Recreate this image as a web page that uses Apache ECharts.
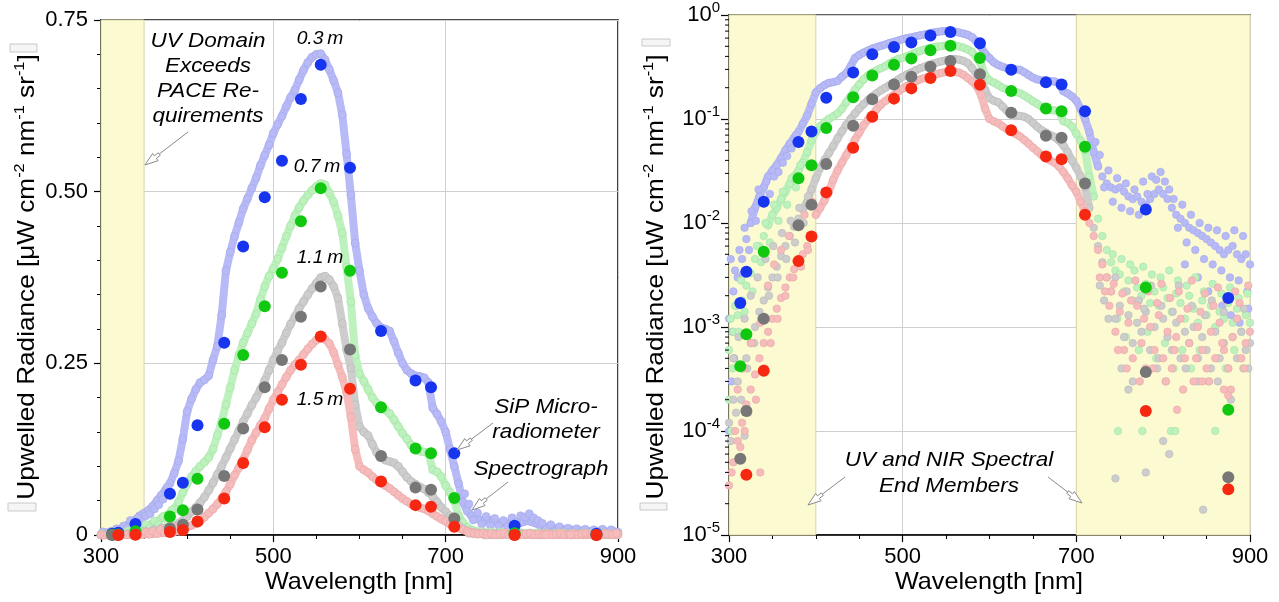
<!DOCTYPE html>
<html>
<head>
<meta charset="utf-8">
<script src="https://cdn.jsdelivr.net/npm/echarts@6/dist/echarts.min.js"></script>
<style>
  html, body { margin: 0; padding: 0; background: #fff; }
  #chart { width: 1279px; height: 602px; }
</style>
</head>
<body>
<div id="chart"></div>
<script>
// Spectrograph sampling grid (nm)
const wavelengths = [
  300,305,310,315,320,325,330,335,340,345,350,355,360,365,370,375,380,385,390,395,
  400,405,410,415,420,425,430,435,440,445,450,455,460,465,470,475,480,485,490,495,
  500,505,510,515,520,525,530,535,540,545,550,555,560,565,570,575,580,585,590,595,
  600,605,610,615,620,625,630,635,640,645,650,655,660,665,670,675,680,685,690,695,
  700,705,710,715,720,725,730,735,740,745,750,755,760,765,770,775,780,785,790,795,
  800,805,810,815,820,825,830,835,840,845,850,855,860,865,870,875,880,885,890,895,
  900
];

// Spectrograph upwelled radiance, 0.3 m
const spec03 = [
  0.0012,0.0022,0.0030,0.0045,0.0070,0.0100,0.0140,0.0180,0.0220,0.0280,0.0320,0.0360,0.0420,0.0500,0.0580,0.0660,0.0750,0.0900,0.108,0.140,
  0.180,0.198,0.212,0.222,0.226,0.232,0.255,0.275,0.320,0.385,0.412,0.435,0.455,0.475,0.490,0.505,0.520,0.538,0.553,0.568,
  0.585,0.598,0.610,0.624,0.637,0.648,0.663,0.677,0.688,0.696,0.700,0.701,0.692,0.678,0.662,0.644,0.612,0.555,0.495,0.425,
  0.385,0.350,0.330,0.318,0.308,0.302,0.300,0.297,0.282,0.265,0.250,0.240,0.235,0.232,0.231,0.229,0.222,0.185,0.176,0.165,
  0.150,0.125,0.100,0.075,0.048,0.035,0.028,0.024,0.022,0.021,0.022,0.020,0.018,0.017,0.018,0.016,0.015,0.017,0.019,0.021,
  0.019,0.017,0.014,0.012,0.011,0.010,0.009,0.0085,0.008,0.0075,0.007,0.0065,0.006,0.0055,0.005,0.0055,0.006,0.005,0.0045,0.005,
  0.004
];
// Spectrograph upwelled radiance, 0.7 m
const spec07 = [
  0.0006,0.0009,0.0013,0.0018,0.0025,0.0033,0.0045,0.0060,0.0075,0.0095,0.0120,0.0140,0.0170,0.0200,0.0240,0.0280,0.0320,0.0380,0.0480,0.0620,
  0.0750,0.0850,0.0930,0.100,0.106,0.113,0.125,0.145,0.165,0.190,0.215,0.240,0.262,0.280,0.294,0.308,0.322,0.343,0.362,0.377,
  0.388,0.402,0.418,0.435,0.450,0.465,0.477,0.487,0.495,0.502,0.508,0.512,0.510,0.498,0.485,0.465,0.440,0.390,0.340,0.262,
  0.235,0.224,0.212,0.200,0.192,0.187,0.182,0.177,0.168,0.158,0.148,0.140,0.131,0.125,0.122,0.121,0.119,0.095,0.092,0.085,
  0.072,0.062,0.050,0.028,0.018,0.011,0.0075,0.0055,0.0042,0.0035,0.0032,0.0022,0.0028,0.0018,0.0024,0.0020,0.0026,0.0017,0.0022,0.0016,
  0.0024,0.0019,0.0014,0.0021,0.0017,0.0012,0.0020,0.0015,0.0011,0.0018,0.0013,0.0016,0.0010,0.0014,0.0012,0.0017,0.0011,0.0015,0.0009,0.0013,
  0.0011
];
// Spectrograph upwelled radiance, 1.1 m
const spec11 = [
  0.00012,0.0002,0.0003,0.0004,0.0005,0.0007,0.0010,0.0014,0.0018,0.0024,0.0030,0.0038,0.0048,0.0060,0.0075,0.0092,0.0110,0.0135,0.0160,0.0210,
  0.0270,0.034,0.040,0.047,0.055,0.065,0.076,0.088,0.100,0.113,0.126,0.139,0.152,0.165,0.177,0.189,0.200,0.212,0.225,0.240,
  0.255,0.268,0.280,0.294,0.307,0.318,0.330,0.340,0.350,0.359,0.367,0.375,0.377,0.372,0.362,0.345,0.308,0.270,0.243,0.190,
  0.158,0.150,0.145,0.132,0.120,0.113,0.109,0.107,0.105,0.100,0.092,0.084,0.078,0.074,0.070,0.067,0.062,0.056,0.048,0.040,
  0.034,0.028,0.022,0.014,0.009,0.006,0.0042,0.0030,0.0022,0.0012,0.0016,0.0008,0.0013,0.0007,0.0011,0.0009,0.0014,0.0006,0.0010,0.0005,
  0.0012,0.0008,0.0006,0.0011,0.0005,0.0009,0.0007,0.0010,0.0005,0.0008,0.0006,0.0004,0.0009,0.0005,0.0007,0.0004,0.0008,0.0005,0.0009,0.0006,
  0.0007
];
// Spectrograph upwelled radiance, 1.5 m
const spec15 = [
  0.00003,0.00005,0.00008,0.00012,0.00018,0.00025,0.00035,0.0005,0.0007,0.0009,0.0012,0.0015,0.0019,0.0024,0.0030,0.0036,0.0043,0.0050,0.0060,0.0075,
  0.0120,0.0140,0.0165,0.020,0.026,0.032,0.038,0.045,0.053,0.063,0.074,0.087,0.098,0.110,0.124,0.138,0.149,0.160,0.170,0.184,
  0.197,0.208,0.219,0.230,0.240,0.248,0.255,0.263,0.271,0.278,0.284,0.287,0.285,0.279,0.266,0.248,0.230,0.208,0.172,0.125,
  0.100,0.095,0.091,0.085,0.080,0.076,0.072,0.068,0.063,0.058,0.053,0.049,0.045,0.042,0.040,0.038,0.035,0.031,0.027,0.023,
  0.020,0.016,0.013,0.010,0.0075,0.0055,0.0040,0.0030,0.0022,0.0009,0.0014,0.0006,0.0011,0.0005,0.0016,0.0007,0.0004,0.0010,0.0006,0.0013,
  0.0005,0.0009,0.0004,0.0008,0.0012,0.0005,0.0007,0.0003,0.0010,0.0006,0.0004,0.0009,0.0005,0.0011,0.0006,0.0004,0.0008,0.0012,0.0005,0.0007,
  0.0009
];

// Additional spectrograph samples in the noisy UV and NIR ends: [nm, radiance]
const scatter03 = [
  [302,0.0045],[304,0.0009],[307,0.0035],[309,0.0016],[312,0.0055],[316,0.0032],[318,0.009],[323,0.0055],[326,0.013],[331,0.0105],
  [334,0.021],[338,0.016],[343,0.025],[347,0.019],[352,0.028],[357,0.031],[362,0.038],[367,0.044],[372,0.052],[377,0.07],
  [303,0.0003],[300,0.0001],[306,0.0005],
  [722,0.06],[727,0.045],[732,0.022],[737,0.032],[742,0.016],[747,0.027],[752,0.014],[757,0.024],[762,0.013],[767,0.021],
  [772,0.012],[777,0.025],[782,0.019],[787,0.028],[792,0.026],[797,0.031],[802,0.025],[807,0.021],[812,0.017],[817,0.009],
  [822,0.015],[827,0.0065],[832,0.012],[837,0.0055],[842,0.010],[847,0.0045],[852,0.009],[857,0.004],[862,0.0085],[867,0.0035],
  [872,0.0075],[877,0.003],[882,0.0085],[887,0.0028],[892,0.0075],[897,0.0022],[852,0.0022],[868,0.0016],[878,0.0013],[888,0.0011],
  [898,0.0015],[840,0.003],[825,0.004]
];
const scatter07 = [
  [300,0.0002],[302,0.0012],[304,0.0004],[307,0.0016],[311,0.0009],[314,0.0028],[318,0.0014],[322,0.0035],[327,0.0022],[332,0.006],
  [337,0.0042],[342,0.01],[347,0.0065],[352,0.015],[357,0.0105],[362,0.02],[367,0.015],[372,0.027],[377,0.022],[382,0.036],[303,0.0001],
  [742,0.005],[747,0.0012],[752,0.0045],[757,0.0008],[762,0.004],[767,0.0035],[772,0.0006],[777,0.0038],[782,0.0009],[787,0.0032],
  [792,0.0005],[797,0.003],[802,0.0007],[807,0.0035],[812,0.0004],[817,0.0028],[822,0.0006],[827,0.0025],[832,0.0004],[837,0.003],
  [842,0.0006],[847,0.0022],[852,0.0003],[857,0.0026],[862,0.0005],[867,0.0021],[872,0.0004],[877,0.0024],[882,0.0006],[887,0.0019],
  [892,0.0004],[897,0.0021],[748,0.0001],[776,0.0001],[809,0.0001],[814,0.0001],[860,0.0001]
];
const scatter11 = [
  [302,0.00008],[305,0.0005],[308,0.00015],[311,0.0008],[314,0.0002],[318,0.0012],[321,0.0004],[325,0.002],[329,0.0007],[333,0.003],
  [337,0.0012],[342,0.0045],[346,0.002],[351,0.006],[356,0.003],[361,0.008],[366,0.0045],[371,0.0105],[376,0.0065],[381,0.014],
  [386,0.01],[391,0.018],[318,0.00009],
  [727,0.0025],[732,0.0018],[737,0.0012],[745,0.003],[752,0.0004],[758,0.0022],[765,0.0003],[772,0.0018],[778,0.0015],[786,0.0025],
  [793,0.0004],[798,0.0016],[803,0.0003],[811,0.0014],[818,0.0025],[826,0.0004],[833,0.0016],[840,0.0003],[848,0.0013],[856,0.0018],
  [863,0.0003],[870,0.0014],[878,0.0002],[885,0.0012],[893,0.0015],[898,0.0004],[745,0.000035],[780,0.00004],[800,0.00008],[807,0.00006],
  [846,0.0000175],[760,0.00025]
];
const scatter15 = [
  [303,0.00004],[307,0.0001],[310,0.00025],[313,0.00007],[317,0.0004],[322,0.00015],[326,0.0007],[331,0.0002],[336,0.0011],[341,0.0004],
  [345,0.0025],[348,0.0007],[352,0.004],[356,0.0012],[360,0.0055],[365,0.002],[369,0.0075],[374,0.003],[378,0.0095],[383,0.0038],
  [387,0.012],[391,0.0055],[396,0.016],[336,0.00004],[318,0.0001],
  [727,0.003],[733,0.0022],[738,0.0016],[743,0.0026],[748,0.0006],[753,0.0021],[758,0.0004],[763,0.0018],[768,0.0028],[773,0.0003],
  [778,0.0012],[783,0.0022],[788,0.0004],[793,0.0017],[798,0.0026],[803,0.0003],[808,0.0019],[813,0.0006],[818,0.0022],[823,0.00025],
  [828,0.0015],[833,0.0028],[838,0.0005],[843,0.0014],[848,0.0021],[853,0.0003],[858,0.0016],[863,0.0024],[868,0.0007],[873,0.0018],
  [878,0.00025],[883,0.0022],[888,0.0017],[893,0.0004],[898,0.0025],[816,0.00016],[845,0.0003],[870,0.00025],[875,0.00022]
];

// SiP microradiometer channels (nm) and radiances
const channels = [313,320,340,380,395,412,443,465,490,510,532,555,589,625,665,683,710,780,875];
const rad03 = [0.0017,0.0034,0.016,0.060,0.076,0.160,0.280,0.420,0.492,0.545,0.635,0.685,0.535,0.297,0.225,0.215,0.119,0.0135,0.0019];
const rad07 = [0.00042,0.00085,0.0053,0.027,0.036,0.082,0.162,0.262,0.333,0.382,0.457,0.505,0.385,0.186,0.126,0.119,0.054,0.0024,0.00016];
const rad11 = [0.000054,0.000156,0.0012,0.0095,0.015,0.037,0.086,0.155,0.215,0.255,0.318,0.362,0.270,0.115,0.069,0.066,0.024,0.00037,0.000036];
const rad15 = [null,0.000038,0.00038,0.0043,0.0074,0.0197,0.053,0.105,0.157,0.197,0.248,0.289,0.213,0.078,0.0435,0.041,0.012,0.000156,0.0000275];

const depthLabels = ['0.3\u2009m', '0.7\u2009m', '1.1\u2009m', '1.5\u2009m'];
const xTicks = [300, 500, 700, 900];
const linearYTicks = [0, 0.25, 0.5, 0.75];

const FONT = '"Liberation Sans", Arial, Helvetica, sans-serif';

const depths = [
  { spec: spec03, extra: scatter03, rad: rad03, light: '#B7BAF6', edge: '#A3A7EA', dark: '#1734EE', logRange: [325, 727] },
  { spec: spec07, extra: scatter07, rad: rad07, light: '#BDF1BD', edge: '#A5E2A5', dark: '#0FC80F', logRange: [345, 722] },
  { spec: spec11, extra: scatter11, rad: rad11, light: '#CDCDCD', edge: '#B8B8B8', dark: '#777777', logRange: [385, 718] },
  { spec: spec15, extra: scatter15, rad: rad15, light: '#F6BCBC', edge: '#E8A6A6', dark: '#F62812', logRange: [398, 712] }
];

function pairs(xs, ys) {
  return xs.map((x, i) => [x, ys[i]]).filter(p => p[1] != null);
}

const chart = echarts.init(document.getElementById('chart'), null, { renderer: 'canvas' });

const axisText = { fontSize: 22, color: '#000', fontFamily: FONT };

function xAxisFor(gridIndex) {
  return {
    type: 'value', gridIndex, min: 300, max: 900, interval: 200,
    axisLine: { show: true, onZero: false, lineStyle: { color: '#000', width: 1.5 } },
    axisTick: { show: true, length: 7, lineStyle: { color: '#000', width: 1.2 } },
    minorTick: { show: true, splitNumber: 4, length: 4, lineStyle: { color: '#000', width: 1 } },
    axisLabel: Object.assign({ margin: 11, formatter: v => xTicks.includes(v) ? String(v) : '' }, axisText),
    splitLine: { show: true, lineStyle: { color: '#CFCFCF', width: 1 } }
  };
}

const option = {
  animation: false,
  backgroundColor: '#fff',
  grid: [
    { left: 101, top: 20, width: 517, height: 515, show: true, borderColor: '#111', borderWidth: 1.6, backgroundColor: 'transparent' },
    { left: 729, top: 15, width: 521, height: 520, show: true, borderColor: '#333', borderWidth: 1.6, backgroundColor: 'transparent' }
  ],
  xAxis: [xAxisFor(0), xAxisFor(1)],
  yAxis: [
    {
      type: 'value', gridIndex: 0, min: 0, max: 0.75, interval: 0.25,
      axisLine: { show: true, onZero: false, lineStyle: { color: '#000', width: 1.5 } },
      axisTick: { show: true, length: 7, lineStyle: { color: '#000', width: 1.2 } },
      minorTick: { show: true, splitNumber: 5, length: 4, lineStyle: { color: '#000', width: 1 } },
      axisLabel: Object.assign({
        margin: 13,
        formatter: v => linearYTicks.includes(v) ? (v === 0 ? '0' : v.toFixed(2)) : ''
      }, axisText),
      splitLine: { show: true, lineStyle: { color: '#CFCFCF', width: 1 } }
    },
    {
      type: 'log', logBase: 10, gridIndex: 1, min: 1e-5, max: 1,
      axisLine: { show: true, onZero: false, lineStyle: { color: '#000', width: 1.5 } },
      axisTick: { show: true, length: 8, lineStyle: { color: '#000', width: 1.2 } },
      minorTick: { show: false },
      axisLabel: {
        margin: 9,
        formatter: v => '{b|10}{e|' + Math.round(Math.log10(v)) + '}',
        rich: {
          b: { fontSize: 22, fontFamily: FONT, color: '#000', lineHeight: 30, verticalAlign: 'middle' },
          e: { fontSize: 15, fontFamily: FONT, color: '#000', lineHeight: 30, verticalAlign: 'top' }
        }
      },
      splitLine: { show: true, lineStyle: { color: '#CFCFCF', width: 1 } }
    }
  ],
  series: []
};

// Shaded wavelength domains
option.series.push({
  type: 'line', xAxisIndex: 0, yAxisIndex: 0, data: [], z: -1, silent: true,
  markArea: {
    silent: true,
    itemStyle: { color: '#FCFAD0', borderColor: '#D9D6A8', borderWidth: 1 },
    data: [[{ xAxis: 300 }, { xAxis: 350 }]]
  }
});
option.series.push({
  type: 'line', xAxisIndex: 1, yAxisIndex: 1, data: [], z: -1, silent: true,
  markArea: {
    silent: true,
    itemStyle: { color: '#FCFAD0', borderColor: '#D9D6A8', borderWidth: 1 },
    data: [[{ xAxis: 300 }, { xAxis: 400 }], [{ xAxis: 700 }, { xAxis: 900 }]]
  }
});

// Spectrograph traces
depths.forEach((d, i) => {
  const main = pairs(wavelengths, d.spec);
  const dotStyle = { color: d.light, borderColor: d.edge, borderWidth: 0.6, opacity: 1 };
  // linear panel: continuous band of samples
  option.series.push({
    type: 'line', xAxisIndex: 0, yAxisIndex: 0, data: main, silent: true, z: 3 + i * 0.1,
    symbol: 'circle', symbolSize: 8, showSymbol: true,
    lineStyle: { color: d.light, width: 8, cap: 'round', join: 'round' },
    itemStyle: dotStyle
  });
  option.series.push({
    type: 'scatter', xAxisIndex: 0, yAxisIndex: 0, data: d.extra, silent: true, z: 3 + i * 0.1,
    symbolSize: 8, itemStyle: dotStyle
  });
  // log panel: band where the signal is clean, loose samples at the ends
  option.series.push({
    type: 'line', xAxisIndex: 1, yAxisIndex: 1, silent: true, z: 3 + i * 0.1,
    data: main.filter(p => p[0] >= d.logRange[0] && p[0] <= d.logRange[1]),
    showSymbol: false, lineStyle: { color: d.light, width: 8, cap: 'round', join: 'round' }
  });
  option.series.push({
    type: 'scatter', xAxisIndex: 1, yAxisIndex: 1, silent: true, z: 3 + i * 0.1,
    data: main.concat(d.extra), symbolSize: 7.5, itemStyle: dotStyle
  });
});

// Microradiometer channels
depths.forEach((d, i) => {
  const pts = pairs(channels, d.rad);
  [0, 1].forEach(g => {
    option.series.push({
      type: 'scatter', xAxisIndex: g, yAxisIndex: g, data: pts, silent: true, z: 10,
      symbolSize: 12, itemStyle: { color: d.dark, opacity: 1 }
    });
  });
});

// Log-axis minor ticks (2..9 within each decade)
const logMinor = [];
for (let e = -5; e < 0; e++) {
  for (let m = 2; m <= 9; m++) logMinor.push([300, m * Math.pow(10, e)]);
}
option.series.push({
  type: 'custom', xAxisIndex: 1, yAxisIndex: 1, data: logMinor, silent: true, clip: false, z: 20,
  renderItem: (params, api) => {
    const p = api.coord([api.value(0), api.value(1)]);
    return {
      type: 'line',
      shape: { x1: p[0] - 4, y1: p[1], x2: p[0], y2: p[1] },
      style: { stroke: '#000', lineWidth: 1 }
    };
  }
});

// Annotation arrows with hollow heads
function arrow(x1, y1, x2, y2) {
  const dx = x2 - x1, dy = y2 - y1;
  const len = Math.sqrt(dx * dx + dy * dy);
  const ux = dx / len, uy = dy / len;
  const px = -uy, py = ux;
  const headL = 13, headW = 4.5, shaftW = 1.6;
  const bx = x2 - ux * headL, by = y2 - uy * headL;
  const tailX = x2 - ux * (headL + 5), tailY = y2 - uy * (headL + 5);
  return [
    { type: 'line', silent: true, z: 30,
      shape: { x1: x1, y1: y1, x2: tailX, y2: tailY },
      style: { stroke: '#8A8A8A', lineWidth: 1 } },
    { type: 'polygon', silent: true, z: 30,
      shape: { points: [
        [x2, y2],
        [bx + px * headW, by + py * headW],
        [bx + px * shaftW, by + py * shaftW],
        [tailX + px * shaftW, tailY + py * shaftW],
        [tailX - px * shaftW, tailY - py * shaftW],
        [bx - px * shaftW, by - py * shaftW],
        [bx - px * headW, by - py * headW]
      ] },
      style: { fill: '#fff', stroke: '#8A8A8A', lineWidth: 1 } }
  ];
}

const noteFont = { fontFamily: FONT, fontStyle: 'italic', fill: '#000' };

function yTitle(x, y, mu) {
  return {
    type: 'text', x: x, y: y, rotation: Math.PI / 2, scaleX: 1.09, silent: true, z: 30,
    style: {
      text: '{a|Upwelled Radiance [' + mu + 'W cm}{s|-2}{a| nm}{s|-1}{a| sr}{s|-1}{a|]}',
      align: 'center', verticalAlign: 'middle',
      rich: {
        a: { fontSize: 24, fontFamily: FONT, fill: '#000', lineHeight: 30, verticalAlign: 'middle' },
        s: { fontSize: 15, fontFamily: FONT, fill: '#000', lineHeight: 30, verticalAlign: 'top' }
      }
    }
  };
}

// Empty glyph boxes at both ends of each vertical title
function glyphBox(x, y, w, h) {
  return { type: 'rect', silent: true, z: 30, shape: { x: x, y: y, width: w, height: h },
    style: { fill: '#F5F5F5', stroke: '#C9C9C9', lineWidth: 1 } };
}

function note(x, y, text, size, extra) {
  return { type: 'text', x: x, y: y, scaleX: 1.07, silent: true, z: 30,
    style: Object.assign({ text: text, fontSize: size, align: 'center', verticalAlign: 'middle' }, noteFont, extra || {}) };
}

option.graphic = [
  yTitle(27, 277, '\u03BC'),
  yTitle(656, 277, 'u'),
  glyphBox(10, 44, 27, 8),
  glyphBox(8, 503, 28, 8),
  glyphBox(642, 39, 28, 7),
  glyphBox(640, 503, 27, 7),
  { type: 'text', x: 359, y: 582, scaleX: 1.05, silent: true, style: { text: 'Wavelength [nm]', fontSize: 24, fontFamily: FONT, fill: '#000', align: 'center', verticalAlign: 'middle' } },
  { type: 'text', x: 989, y: 582, scaleX: 1.05, silent: true, style: { text: 'Wavelength [nm]', fontSize: 24, fontFamily: FONT, fill: '#000', align: 'center', verticalAlign: 'middle' } },
  note(208, 29, 'UV Domain\nExceeds\nPACE Re-\nquirements', 21, { lineHeight: 25, verticalAlign: 'top' }),
  note(320, 39, depthLabels[0], 18),
  note(317, 167, depthLabels[1], 18),
  note(320, 258, depthLabels[2], 18),
  note(320, 400, depthLabels[3], 18),
  note(546, 395, 'SiP Micro-\nradiometer', 21, { lineHeight: 25, verticalAlign: 'top' }),
  note(541, 469, 'Spectrograph', 21),
  note(949, 447, 'UV and NIR Spectral\nEnd Members', 21, { lineHeight: 26, verticalAlign: 'top' })
].concat(
  arrow(188, 132, 145, 165),
  arrow(493, 423, 457, 450),
  arrow(508, 482, 472, 510),
  arrow(845, 477, 808, 505),
  arrow(1048, 477, 1082, 503)
);

chart.setOption(option);
</script>
</body>
</html>
